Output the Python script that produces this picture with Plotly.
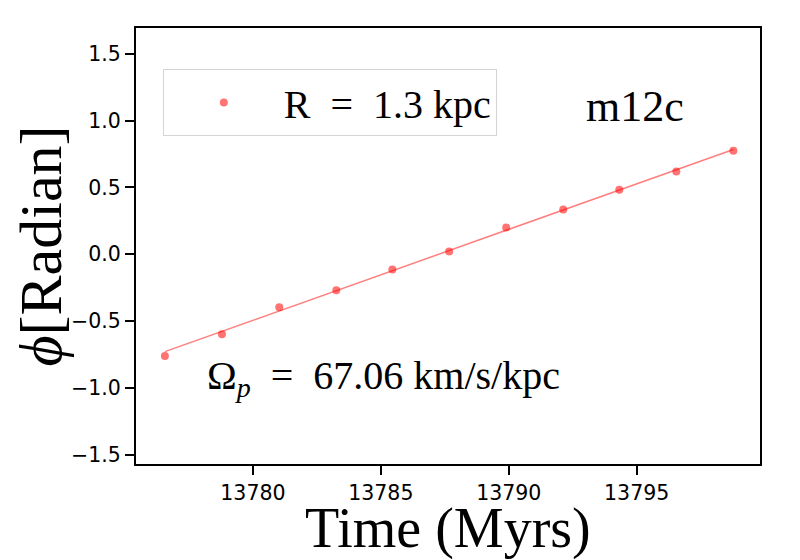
import numpy as np
import plotly.graph_objects as go

# phase angle of the bar vs time, m12c, R = 1.3 kpc
time_myr = [13776.56, 13778.79, 13781.03, 13783.26, 13785.45, 13787.67,
            13789.90, 13792.13, 13794.32, 13796.55, 13798.78]
phi_rad = [-0.762, -0.600, -0.398, -0.271, -0.114, 0.020,
           0.199, 0.334, 0.483, 0.618, 0.774]

# linear fit, read at the first and last time
fit_time = [13776.56, 13798.78]
fit_phi = [-0.730, 0.784]

y_ticks = [-1.5, -1.0, -0.5, 0.0, 0.5, 1.0, 1.5]
x_ticks = [13780, 13785, 13790, 13795]

serif = "Liberation Serif"
sans = "DejaVu Sans"

fig = go.Figure()
fig.add_trace(go.Scatter(x=fit_time, y=fit_phi, mode="lines", showlegend=False,
                         line=dict(color="rgba(255,0,0,0.5)", width=1.5)))
fig.add_trace(go.Scatter(x=time_myr, y=phi_rad, mode="markers", name="R\u2002=\u20021.3 kpc",
                         marker=dict(size=8, color="rgba(255,0,0,0.55)", line=dict(width=0))))

# page body has an 8px margin, so the margins are shifted by 8
fig["layout"]["margin"] = {"l": 128, "r": 48, "t": 20, "b": 104}
fig["layout"]["legend"] = {"x": 0.043, "y": 0.906, "xanchor": "left", "yanchor": "top",
                           "bgcolor": "white", "bordercolor": "#d4d4d4", "borderwidth": 1,
                           "font": dict(family=serif, size=40, color="black"),
                           "itemwidth": 110}
fig.update_layout(width=800, height=560, plot_bgcolor="white", paper_bgcolor="white")

fig.update_xaxes(range=[13775.43, 13799.82], tickvals=x_ticks, tickformat="d",
                 ticks="outside", ticklen=9, tickwidth=1.7, tickcolor="black",
                 showline=True, linewidth=2, linecolor="black", mirror=True,
                 showgrid=False, zeroline=False, automargin=False,
                 tickfont=dict(family=sans, size=20.5, color="black"))
fig.update_yaxes(range=[-1.571, 1.693], tickvals=y_ticks, tickformat=".1f",
                 ticks="outside", ticklen=9, tickwidth=1.7, tickcolor="black",
                 showline=True, linewidth=2, linecolor="black", mirror=True,
                 showgrid=False, zeroline=False, automargin=False,
                 tickfont=dict(family=sans, size=20.5, color="black"),
                 title=dict(text="<i>ϕ</i>[Radian]", font=dict(family=serif, size=60, color="black"), standoff=12))

# x title as an annotation, so it sits where the reference has it
fig.add_annotation(text="Time (Myrs)", xref="x domain", yref="y domain", x=0.5, y=-0.149,
                   xanchor="center", yanchor="middle",
                   showarrow=False, font=dict(family=serif, size=56, color="black"))
fig.add_annotation(text="m12c", xref="x domain", yref="y domain", x=0.80, y=0.821,
                   xanchor="center", yanchor="middle",
                   showarrow=False, font=dict(family=serif, size=44, color="black"))
fig.add_annotation(text="Ω<sub><i>p</i></sub>\u2002=\u200267.06 km/s/kpc", xref="x domain", yref="y domain",
                   x=0.397, y=0.197, xanchor="center", yanchor="middle",
                   showarrow=False, font=dict(family=serif, size=40, color="black"))

fig.write_html("out.html")
